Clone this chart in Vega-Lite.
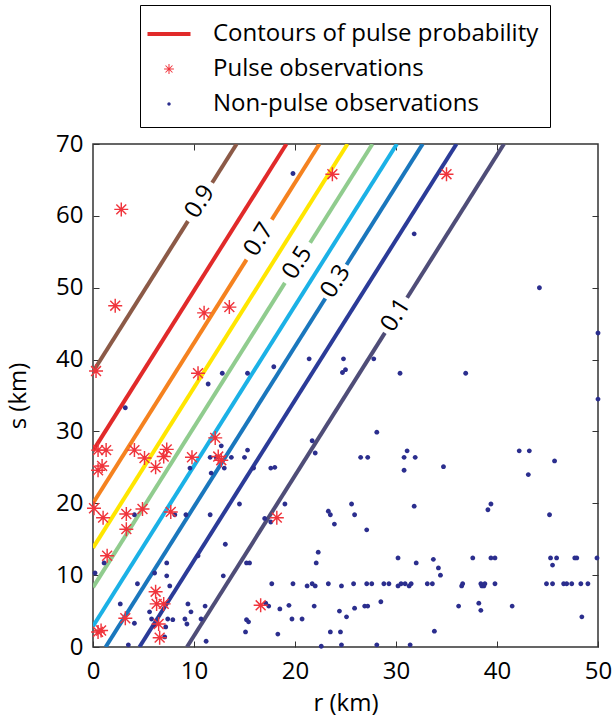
{
  "$schema": "https://vega.github.io/schema/vega-lite/v6.json",
  "autosize": {"type": "none"},
  "width": 505,
  "height": 503,
  "padding": {"left": 93, "top": 144, "right": 15, "bottom": 72},
  "config": {
    "font": "Open Sans",
    "view": {"stroke": "#333333", "strokeWidth": 1.5},
    "axis": {"grid": false, "domain": false, "tickColor": "#333333", "tickWidth": 1, "tickSize": -6, "labelColor": "black", "labelFontSize": 24, "labelFont": "Open Sans", "titleFontSize": 24, "titleFontWeight": "normal", "titleColor": "black", "titleFont": "Open Sans"}
  },
  "datasets": {
    "contours": [
      {"level": "0.9", "seg": "0.9a", "r": 0, "s": 38.3}, {"level": "0.9", "seg": "0.9a", "r": 9.4, "s": 59.26},
      {"level": "0.9", "seg": "0.9b", "r": 11.8, "s": 64.61}, {"level": "0.9", "seg": "0.9b", "r": 14.22, "s": 70},
      {"level": "0.8", "seg": "0.8a", "r": 0, "s": 27.3}, {"level": "0.8", "seg": "0.8a", "r": 19.15, "s": 70},
      {"level": "0.7", "seg": "0.7a", "r": 0, "s": 20.0}, {"level": "0.7", "seg": "0.7a", "r": 15.2, "s": 53.9},
      {"level": "0.7", "seg": "0.7b", "r": 17.7, "s": 59.47}, {"level": "0.7", "seg": "0.7b", "r": 22.42, "s": 70},
      {"level": "0.6", "seg": "0.6a", "r": 0, "s": 13.8}, {"level": "0.6", "seg": "0.6a", "r": 25.2, "s": 70},
      {"level": "0.5", "seg": "0.5a", "r": 0, "s": 8.3}, {"level": "0.5", "seg": "0.5a", "r": 19.0, "s": 50.67},
      {"level": "0.5", "seg": "0.5b", "r": 21.5, "s": 56.25}, {"level": "0.5", "seg": "0.5b", "r": 27.67, "s": 70},
      {"level": "0.4", "seg": "0.4a", "r": 0, "s": 2.9}, {"level": "0.4", "seg": "0.4a", "r": 30.09, "s": 70},
      {"level": "0.3", "seg": "0.3a", "r": 1.25, "s": 0}, {"level": "0.3", "seg": "0.3a", "r": 23.0, "s": 48.5},
      {"level": "0.3", "seg": "0.3b", "r": 25.1, "s": 53.19}, {"level": "0.3", "seg": "0.3b", "r": 32.64, "s": 70},
      {"level": "0.2", "seg": "0.2a", "r": 4.6, "s": 0}, {"level": "0.2", "seg": "0.2a", "r": 35.99, "s": 70},
      {"level": "0.1", "seg": "0.1a", "r": 9.3, "s": 0}, {"level": "0.1", "seg": "0.1a", "r": 28.9, "s": 43.71},
      {"level": "0.1", "seg": "0.1b", "r": 31.1, "s": 48.61}, {"level": "0.1", "seg": "0.1b", "r": 40.69, "s": 70}
    ],
    "labels": [
      {"level": "0.9", "r": 10.6, "s": 61.95},
      {"level": "0.7", "r": 16.45, "s": 56.68},
      {"level": "0.5", "r": 20.25, "s": 53.46},
      {"level": "0.3", "r": 24.05, "s": 50.85},
      {"level": "0.1", "r": 30.0, "s": 46.16}
    ],
    "obs": [
      {"r": 19.8, "s": 65.9, "k": "n"}, {"r": 31.8, "s": 57.5, "k": "n"}, {"r": 44.2, "s": 50.0, "k": "n"}, {"r": 50.0, "s": 43.7, "k": "n"},
      {"r": 21.4, "s": 40.1, "k": "n"}, {"r": 24.8, "s": 40.1, "k": "n"}, {"r": 27.8, "s": 40.1, "k": "n"}, {"r": 24.7, "s": 38.2, "k": "n"},
      {"r": 25.0, "s": 38.6, "k": "n"}, {"r": 30.4, "s": 38.1, "k": "n"}, {"r": 36.9, "s": 38.1, "k": "n"}, {"r": 12.8, "s": 38.1, "k": "n"},
      {"r": 15.3, "s": 38.1, "k": "n"}, {"r": 17.9, "s": 39.0, "k": "n"}, {"r": 11.4, "s": 36.6, "k": "n"}, {"r": 3.2, "s": 33.3, "k": "n"},
      {"r": 50.0, "s": 34.5, "k": "n"}, {"r": 28.1, "s": 29.9, "k": "n"}, {"r": 21.7, "s": 28.7, "k": "n"}, {"r": 22.0, "s": 27.0, "k": "n"},
      {"r": 26.5, "s": 26.4, "k": "n"}, {"r": 27.2, "s": 26.4, "k": "n"}, {"r": 30.8, "s": 26.4, "k": "n"}, {"r": 31.1, "s": 27.3, "k": "n"},
      {"r": 31.9, "s": 26.4, "k": "n"}, {"r": 30.8, "s": 24.6, "k": "n"}, {"r": 34.7, "s": 25.1, "k": "n"}, {"r": 42.2, "s": 27.3, "k": "n"},
      {"r": 43.2, "s": 27.3, "k": "n"}, {"r": 43.1, "s": 24.0, "k": "n"}, {"r": 45.7, "s": 25.9, "k": "n"},
      {"r": 12.7, "s": 28.0, "k": "n"}, {"r": 15.3, "s": 27.4, "k": "n"}, {"r": 11.6, "s": 26.4, "k": "n"}, {"r": 12.2, "s": 26.4, "k": "n"},
      {"r": 13.7, "s": 26.4, "k": "n"}, {"r": 15.0, "s": 26.4, "k": "n"}, {"r": 9.6, "s": 24.9, "k": "n"}, {"r": 11.7, "s": 24.2, "k": "n"},
      {"r": 13.0, "s": 24.9, "k": "n"}, {"r": 15.9, "s": 24.9, "k": "n"}, {"r": 17.6, "s": 24.9, "k": "n"}, {"r": 18.0, "s": 25.0, "k": "n"},
      {"r": 14.5, "s": 19.9, "k": "n"}, {"r": 19.0, "s": 19.9, "k": "n"}, {"r": 25.6, "s": 19.9, "k": "n"}, {"r": 31.8, "s": 19.6, "k": "n"},
      {"r": 23.3, "s": 18.9, "k": "n"}, {"r": 23.5, "s": 18.4, "k": "n"}, {"r": 23.9, "s": 17.1, "k": "n"}, {"r": 25.9, "s": 18.4, "k": "n"},
      {"r": 27.1, "s": 16.3, "k": "n"}, {"r": 39.1, "s": 19.1, "k": "n"}, {"r": 39.4, "s": 19.9, "k": "n"}, {"r": 45.2, "s": 18.4, "k": "n"},
      {"r": 17.0, "s": 17.9, "k": "n"}, {"r": 17.6, "s": 17.4, "k": "n"}, {"r": 4.1, "s": 18.4, "k": "n"}, {"r": 8.1, "s": 18.4, "k": "n"},
      {"r": 9.2, "s": 18.4, "k": "n"}, {"r": 11.6, "s": 18.4, "k": "n"}, {"r": 13.1, "s": 14.3, "k": "n"}, {"r": 10.4, "s": 12.7, "k": "n"},
      {"r": 7.3, "s": 11.7, "k": "n"}, {"r": 1.1, "s": 11.7, "k": "n"}, {"r": 15.2, "s": 11.7, "k": "n"}, {"r": 15.5, "s": 11.7, "k": "n"},
      {"r": 0.2, "s": 10.3, "k": "n"}, {"r": 7.3, "s": 9.9, "k": "n"}, {"r": 6.1, "s": 10.3, "k": "n"}, {"r": 12.9, "s": 9.9, "k": "n"},
      {"r": 7.6, "s": 8.5, "k": "n"}, {"r": 4.4, "s": 8.8, "k": "n"}, {"r": 2.7, "s": 6.0, "k": "n"}, {"r": 9.4, "s": 6.0, "k": "n"},
      {"r": 11.1, "s": 5.7, "k": "n"}, {"r": 9.7, "s": 4.9, "k": "n"}, {"r": 5.6, "s": 4.9, "k": "n"}, {"r": 5.8, "s": 3.9, "k": "n"},
      {"r": 7.4, "s": 3.9, "k": "n"}, {"r": 7.9, "s": 3.8, "k": "n"}, {"r": 9.1, "s": 3.9, "k": "n"}, {"r": 10.7, "s": 3.9, "k": "n"},
      {"r": 4.1, "s": 3.3, "k": "n"}, {"r": 6.1, "s": 3.0, "k": "n"}, {"r": 7.2, "s": 2.8, "k": "n"}, {"r": 9.3, "s": 3.2, "k": "n"},
      {"r": 7.1, "s": 1.4, "k": "n"}, {"r": 15.2, "s": 3.8, "k": "n"}, {"r": 15.4, "s": 3.5, "k": "n"}, {"r": 15.1, "s": 2.1, "k": "n"},
      {"r": 3.5, "s": 0.3, "k": "n"}, {"r": 11.2, "s": 0.8, "k": "n"},
      {"r": 22.3, "s": 13.2, "k": "n"}, {"r": 22.1, "s": 11.7, "k": "n"}, {"r": 30.2, "s": 12.4, "k": "n"}, {"r": 32.0, "s": 11.7, "k": "n"},
      {"r": 33.7, "s": 12.2, "k": "n"}, {"r": 34.2, "s": 11.0, "k": "n"}, {"r": 34.4, "s": 10.0, "k": "n"}, {"r": 37.6, "s": 12.4, "k": "n"},
      {"r": 39.4, "s": 12.4, "k": "n"}, {"r": 39.8, "s": 12.4, "k": "n"}, {"r": 45.3, "s": 12.4, "k": "n"}, {"r": 45.9, "s": 12.4, "k": "n"},
      {"r": 45.5, "s": 11.4, "k": "n"}, {"r": 47.7, "s": 12.4, "k": "n"}, {"r": 47.9, "s": 12.4, "k": "n"}, {"r": 49.9, "s": 12.4, "k": "n"},
      {"r": 17.7, "s": 8.8, "k": "n"}, {"r": 19.8, "s": 8.8, "k": "n"}, {"r": 21.2, "s": 8.5, "k": "n"}, {"r": 21.7, "s": 8.8, "k": "n"},
      {"r": 22.0, "s": 8.5, "k": "n"}, {"r": 23.3, "s": 8.8, "k": "n"}, {"r": 24.6, "s": 8.5, "k": "n"}, {"r": 25.8, "s": 8.8, "k": "n"},
      {"r": 27.1, "s": 8.8, "k": "n"}, {"r": 27.6, "s": 8.8, "k": "n"}, {"r": 28.8, "s": 8.8, "k": "n"}, {"r": 29.3, "s": 8.8, "k": "n"},
      {"r": 30.2, "s": 8.5, "k": "n"}, {"r": 30.5, "s": 8.8, "k": "n"}, {"r": 30.9, "s": 8.8, "k": "n"}, {"r": 31.3, "s": 8.5, "k": "n"},
      {"r": 31.5, "s": 8.8, "k": "n"}, {"r": 33.1, "s": 8.8, "k": "n"}, {"r": 33.6, "s": 8.8, "k": "n"}, {"r": 36.5, "s": 8.5, "k": "n"},
      {"r": 36.6, "s": 8.8, "k": "n"}, {"r": 38.4, "s": 8.8, "k": "n"}, {"r": 38.5, "s": 8.5, "k": "n"}, {"r": 38.7, "s": 8.5, "k": "n"},
      {"r": 38.8, "s": 8.8, "k": "n"}, {"r": 39.8, "s": 8.8, "k": "n"}, {"r": 44.9, "s": 8.8, "k": "n"}, {"r": 45.5, "s": 8.8, "k": "n"},
      {"r": 46.6, "s": 8.8, "k": "n"}, {"r": 46.9, "s": 8.8, "k": "n"}, {"r": 47.4, "s": 8.8, "k": "n"}, {"r": 48.3, "s": 8.8, "k": "n"},
      {"r": 49.0, "s": 8.8, "k": "n"},
      {"r": 17.1, "s": 6.1, "k": "n"}, {"r": 17.4, "s": 5.7, "k": "n"}, {"r": 18.5, "s": 5.3, "k": "n"}, {"r": 19.4, "s": 5.8, "k": "n"},
      {"r": 21.9, "s": 5.7, "k": "n"}, {"r": 25.9, "s": 5.4, "k": "n"}, {"r": 26.9, "s": 5.7, "k": "n"}, {"r": 27.2, "s": 5.7, "k": "n"},
      {"r": 28.5, "s": 6.3, "k": "n"}, {"r": 24.4, "s": 5.0, "k": "n"}, {"r": 19.7, "s": 3.9, "k": "n"}, {"r": 20.7, "s": 3.9, "k": "n"},
      {"r": 25.1, "s": 4.2, "k": "n"}, {"r": 18.3, "s": 1.8, "k": "n"}, {"r": 23.5, "s": 2.1, "k": "n"}, {"r": 24.5, "s": 2.1, "k": "n"},
      {"r": 22.6, "s": 0.1, "k": "n"}, {"r": 24.6, "s": 0.3, "k": "n"}, {"r": 28.1, "s": 0.3, "k": "n"}, {"r": 31.4, "s": 0.3, "k": "n"},
      {"r": 33.8, "s": 2.2, "k": "n"}, {"r": 36.2, "s": 5.7, "k": "n"}, {"r": 38.2, "s": 6.1, "k": "n"}, {"r": 38.4, "s": 5.1, "k": "n"},
      {"r": 41.5, "s": 5.7, "k": "n"}, {"r": 48.4, "s": 4.2, "k": "n"},
      {"r": 0.3, "s": 38.4, "k": "p"}, {"r": 10.4, "s": 38.1, "k": "p"}, {"r": 2.8, "s": 60.9, "k": "p"}, {"r": 2.2, "s": 47.5, "k": "p"},
      {"r": 11.0, "s": 46.5, "k": "p"}, {"r": 13.5, "s": 47.3, "k": "p"}, {"r": 23.7, "s": 65.8, "k": "p"}, {"r": 35.0, "s": 65.8, "k": "p"},
      {"r": 0.5, "s": 27.4, "k": "p"}, {"r": 1.3, "s": 27.4, "k": "p"}, {"r": 0.5, "s": 24.6, "k": "p"}, {"r": 0.9, "s": 25.2, "k": "p"},
      {"r": 4.1, "s": 27.4, "k": "p"}, {"r": 5.1, "s": 26.3, "k": "p"}, {"r": 6.2, "s": 25.0, "k": "p"}, {"r": 7.0, "s": 26.5, "k": "p"},
      {"r": 7.3, "s": 27.5, "k": "p"}, {"r": 9.8, "s": 26.4, "k": "p"}, {"r": 12.1, "s": 29.1, "k": "p"}, {"r": 12.7, "s": 26.0, "k": "p"},
      {"r": 12.4, "s": 26.5, "k": "p"}, {"r": 0.1, "s": 19.3, "k": "p"}, {"r": 1.0, "s": 18.0, "k": "p"}, {"r": 3.3, "s": 18.5, "k": "p"},
      {"r": 4.9, "s": 19.2, "k": "p"}, {"r": 7.7, "s": 18.8, "k": "p"}, {"r": 3.3, "s": 16.4, "k": "p"}, {"r": 1.4, "s": 12.7, "k": "p"},
      {"r": 6.2, "s": 7.7, "k": "p"}, {"r": 6.3, "s": 6.0, "k": "p"}, {"r": 7.0, "s": 6.0, "k": "p"}, {"r": 3.2, "s": 4.0, "k": "p"},
      {"r": 6.5, "s": 3.2, "k": "p"}, {"r": 6.6, "s": 1.3, "k": "p"}, {"r": 0.5, "s": 2.1, "k": "p"}, {"r": 0.8, "s": 2.3, "k": "p"},
      {"r": 16.6, "s": 5.8, "k": "p"}, {"r": 18.2, "s": 18.0, "k": "p"}
    ]
  },
  "layer": [
    {
      "data": {"name": "contours"},
      "mark": {"type": "line", "strokeWidth": 4, "strokeCap": "butt", "clip": true},
      "encoding": {
        "x": {"field": "r", "type": "quantitative", "scale": {"domain": [0, 50], "nice": false, "zero": false}, "axis": {"orient": "bottom", "values": [0, 10, 20, 30, 40, 50], "labelPadding": 18, "title": "r (km)", "titlePadding": 8, "labelFlush": false}},
        "y": {"field": "s", "type": "quantitative", "scale": {"domain": [0, 70], "nice": false, "zero": false}, "axis": {"orient": "left", "values": [0, 10, 20, 30, 40, 50, 60, 70], "labelPadding": 16, "title": "s (km)", "titlePadding": 25, "labelFlush": false}},
        "detail": {"field": "seg", "type": "nominal"},
        "color": {"field": "level", "type": "nominal", "legend": null, "scale": {"domain": ["0.1", "0.2", "0.3", "0.4", "0.5", "0.6", "0.7", "0.8", "0.9"], "range": ["#4f4d78", "#2b3b98", "#1a77bd", "#1bb1e6", "#90cc8e", "#ffe600", "#f5821f", "#e12a2a", "#8c5a47"]}}
      }
    },
    {
      "data": {"name": "labels"},
      "mark": {"type": "text", "fontSize": 24, "font": "Open Sans", "angle": -57.8, "align": "center", "baseline": "middle", "color": "black"},
      "encoding": {
        "x": {"field": "r", "type": "quantitative", "axis": null},
        "y": {"field": "s", "type": "quantitative", "axis": null},
        "text": {"field": "level", "type": "nominal"}
      }
    },
    {
      "data": {"name": "obs"},
      "mark": {"type": "point", "filled": true, "opacity": 1, "size": 2330, "strokeWidth": 0},
      "encoding": {
        "x": {"field": "r", "type": "quantitative", "axis": null},
        "y": {"field": "s", "type": "quantitative", "axis": null},
        "shape": {"field": "k", "type": "nominal", "scale": {"domain": ["c", "p", "n"], "range": ["M-1.265,-0.124H1.265V0.124H-1.265Z", "M-0.29,-0.03H0.29V0.03H-0.29Z M-0.03,-0.29H0.03V0.29H-0.03Z M-0.184,-0.226L0.226,0.184L0.184,0.226L-0.226,-0.184Z M-0.184,0.226L-0.226,0.184L0.184,-0.226L0.226,-0.184Z", "M-0.1,0A0.1,0.1,0,1,0,0.1,0A0.1,0.1,0,1,0,-0.1,0Z"]}, "legend": {"orient": "none", "legendX": 47, "legendY": -139, "title": null, "symbolSize": 1156, "labelFontSize": 24, "labelFont": "Open Sans", "labelColor": "black", "labelOffset": 26, "labelLimit": 0, "padding": 11, "rowPadding": 5, "strokeColor": "black", "fillColor": "white", "labelExpr": "datum.label == 'c' ? 'Contours of pulse probability' : datum.label == 'p' ? 'Pulse observations' : 'Non-pulse observations'"}},
        "color": {"field": "k", "type": "nominal", "scale": {"domain": ["c", "p", "n"], "range": ["#e12a2a", "#f0343c", "#2b2e8e"]}, "legend": {"orient": "none", "legendX": 47, "legendY": -139, "title": null, "symbolSize": 1156, "labelFontSize": 24, "labelFont": "Open Sans", "labelColor": "black", "labelOffset": 26, "labelLimit": 0, "padding": 11, "rowPadding": 5, "strokeColor": "black", "fillColor": "white", "labelExpr": "datum.label == 'c' ? 'Contours of pulse probability' : datum.label == 'p' ? 'Pulse observations' : 'Non-pulse observations'"}}
      }
    },
    {
      "data": {"name": "labels"},
      "mark": {"type": "point", "opacity": 0},
      "encoding": {
        "x": {"field": "r", "type": "quantitative", "axis": {"orient": "top", "values": [10, 20, 30, 40], "labels": false, "title": null}},
        "y": {"field": "s", "type": "quantitative", "axis": {"orient": "right", "values": [10, 20, 30, 40, 50, 60], "labels": false, "title": null}}
      }
    }
  ],
  "resolve": {"scale": {"color": "independent", "shape": "independent"}, "legend": {"color": "independent", "shape": "independent"}, "axis": {"x": "independent", "y": "independent"}}
}
